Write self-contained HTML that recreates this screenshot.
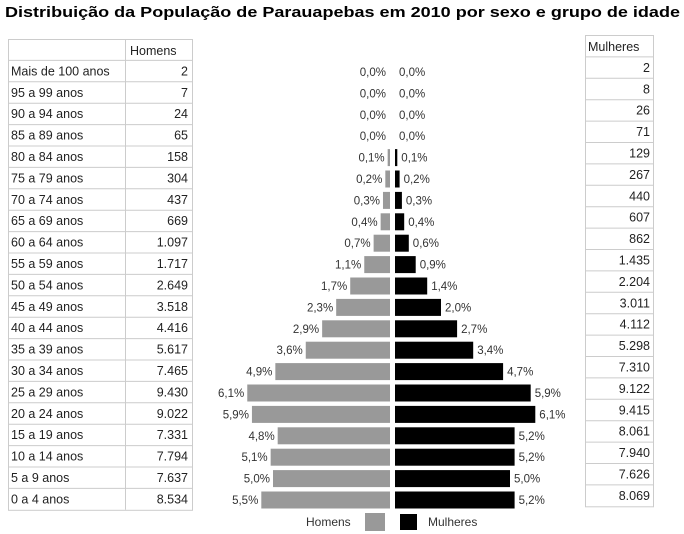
<!DOCTYPE html>
<html><head><meta charset="utf-8"><style>
html,body{margin:0;padding:0;background:#fff;width:684px;height:534px;overflow:hidden}
svg text{font-family:"Liberation Sans",sans-serif}
</style></head><body>
<svg id="s" width="684" height="534" xmlns="http://www.w3.org/2000/svg">
<text x="5" y="17" font-size="15" font-weight="bold" textLength="675" lengthAdjust="spacingAndGlyphs">Distribuição da População de Parauapebas em 2010 por sexo e grupo de idade</text>
</svg>
<script>
(function(){
var s=document.getElementById('s'),o='';
var ages=['Mais de 100 anos','95 a 99 anos','90 a 94 anos','85 a 89 anos','80 a 84 anos','75 a 79 anos','70 a 74 anos','65 a 69 anos','60 a 64 anos','55 a 59 anos','50 a 54 anos','45 a 49 anos','40 a 44 anos','35 a 39 anos','30 a 34 anos','25 a 29 anos','20 a 24 anos','15 a 19 anos','10 a 14 anos','5 a 9 anos','0 a 4 anos'];
var hm=['2','7','24','65','158','304','437','669','1.097','1.717','2.649','3.518','4.416','5.617','7.465','9.430','9.022','7.331','7.794','7.637','8.534'];
var mu=['2','8','26','71','129','267','440','607','862','1.435','2.204','3.011','4.112','5.298','7.310','9.122','9.415','8.061','7.940','7.626','8.069'];
var mp=[0,0,0,0,0.1,0.2,0.3,0.4,0.7,1.1,1.7,2.3,2.9,3.6,4.9,6.1,5.9,4.8,5.1,5.0,5.5];
var fp=[0,0,0,0,0.1,0.2,0.3,0.4,0.6,0.9,1.4,2.0,2.7,3.4,4.7,5.9,6.1,5.2,5.2,5.0,5.2];
function f(v){return v.toFixed(1).replace('.',',')+'%';}
var ltop=39,rh=21.4;
o+='<rect x="8.5" y="39.5" width="184" height="'+(rh*22)+'" fill="none" stroke="#ccc"/>';
o+='<line x1="125.5" y1="39" x2="125.5" y2="'+(39+rh*22)+'" stroke="#ccc"/>';
o+='<text x="130" y="55" font-size="12.5" fill="#222">Homens</text>';
for(var i=0;i<21;i++){var y=ltop+rh*(i+1);
o+='<line x1="8" y1="'+y+'" x2="193" y2="'+y+'" stroke="#ccc"/>';
o+='<text x="11" y="'+(y+15)+'" font-size="12.5" fill="#222">'+ages[i]+'</text>';
o+='<text x="188" y="'+(y+15)+'" font-size="12.5" fill="#222" text-anchor="end">'+hm[i]+'</text>';}
var rt=35;
o+='<rect x="585.5" y="35.5" width="68" height="'+(rh*22+0.5)+'" fill="none" stroke="#ccc"/>';
o+='<text x="588" y="51" font-size="12.5" fill="#222">Mulheres</text>';
for(var i=0;i<21;i++){var y=rt+rh*(i+1)+0.5;
o+='<line x1="585" y1="'+y+'" x2="654" y2="'+y+'" stroke="#ccc"/>';
o+='<text x="650" y="'+(y+15)+'" font-size="12.5" fill="#222" text-anchor="end">'+mu[i]+'</text>';}
for(var i=0;i<21;i++){var cy=72+rh*i;
var mw=mp[i]*23.4,fw=fp[i]*23;
if(mw>0)o+='<rect x="'+(390-mw)+'" y="'+(cy-8.5)+'" width="'+mw+'" height="17" fill="#999"/>';
if(fw>0)o+='<rect x="395" y="'+(cy-8.5)+'" width="'+fw+'" height="17" fill="#000"/>';
var lx=Math.min(390-mw-3,386),rx=Math.max(395+fw+4,399);
o+='<text x="'+lx+'" y="'+(cy+4)+'" font-size="11.5" fill="#333" text-anchor="end">'+f(mp[i])+'</text>';
o+='<text x="'+rx+'" y="'+(cy+4)+'" font-size="11.5" fill="#333">'+f(fp[i])+'</text>';}
o+='<text x="306" y="526" font-size="12" fill="#333">Homens</text>';
o+='<rect x="365" y="513" width="20" height="18" fill="#999"/>';
o+='<rect x="400" y="514" width="17" height="16" fill="#000"/>';
o+='<text x="428" y="526" font-size="12" fill="#333">Mulheres</text>';
s.insertAdjacentHTML('beforeend',o);
})();
</script>
</body></html>
